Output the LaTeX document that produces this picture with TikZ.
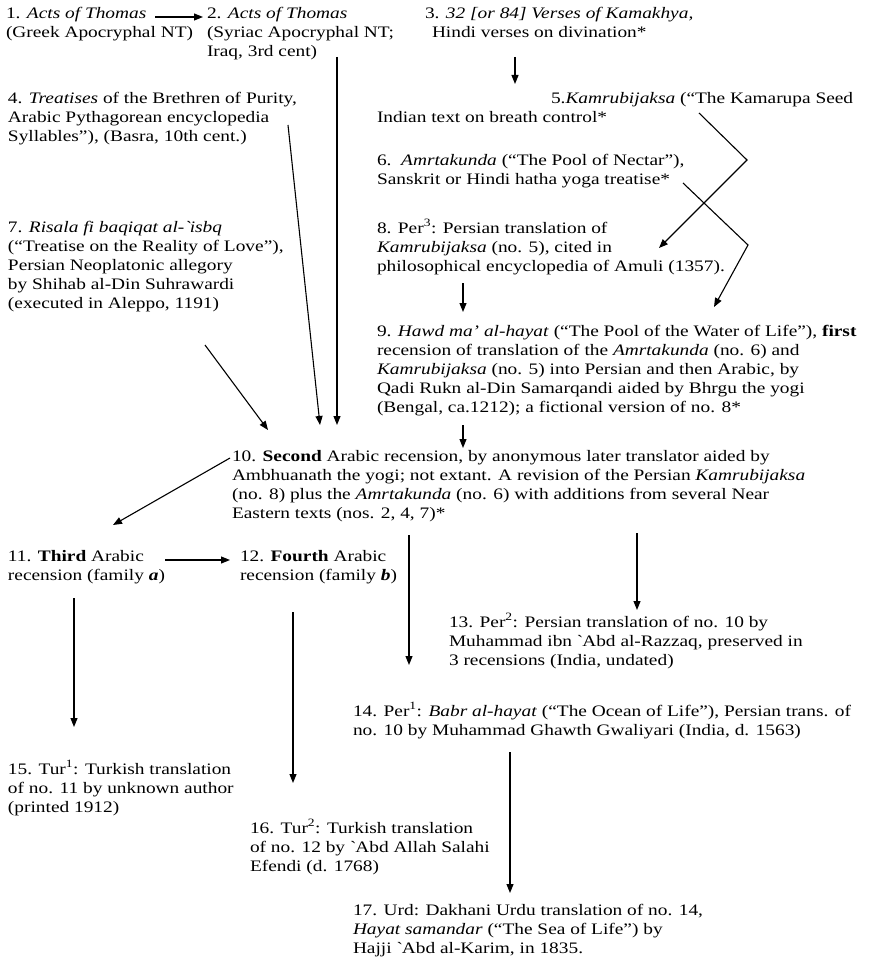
\documentclass[tikz,border=0pt]{standalone}
\usepackage{fontspec}
\setmainfont{Liberation Serif}[FakeStretch=1.21]
\usetikzlibrary{arrows.meta}
\newcommand{\bq}{\textasciigrave}
\begin{document}
\begin{tikzpicture}[x=1pt,y=-1pt,
  txt/.style={anchor=north west,inner sep=0pt,outer sep=0pt,align=left,font=\fontsize{16}{19}\selectfont},
  arr/.style={line width=1.1pt,-{Triangle[length=9pt,width=7pt]}}]
\fill[white] (0,0) rectangle (877,965);
\useasboundingbox (0,0) rectangle (877,965);
% nodes
\node[txt] (n1) at (6,5.5) {\strut 1. \textit{Acts of Thomas}\\(Greek Apocryphal NT)};
\node[txt] (n2) at (207,5.5) {\strut 2. \textit{Acts of Thomas}\\(Syriac Apocryphal NT;\\Iraq, 3rd cent)};
\node[txt] (n3) at (425,5.5) {\strut 3. \textit{32 [or 84] Verses of Kamakhya,}\\\hspace*{7pt}Hindi verses on divination*};
\node[txt] (n4) at (8,90.5) {\strut 4. \textit{Treatises} of the Brethren of Purity,\\Arabic Pythagorean encyclopedia\\Syllables''), (Basra, 10th cent.)};
\node[txt] (n5) at (377,90.5) {\strut\hspace*{174pt}5.\textit{Kamrubijaksa} (``The Kamarupa Seed\\Indian text on breath control*};
\node[txt] (n6) at (377,152.5) {\strut 6.\ \ \textit{Amrtakunda} (``The Pool of Nectar''),\\Sanskrit or Hindi hatha yoga treatise*};
\node[txt] (n7) at (8,219.5) {\strut 7. \textit{Risala fi baqiqat al-\bq isbq}\\(``Treatise on the Reality of Love''),\\Persian Neoplatonic allegory\\by Shihab al-Din Suhrawardi\\(executed in Aleppo, 1191)};
\node[txt] (n8) at (377,219.5) {\strut 8. Per\textsuperscript{3}: Persian translation of\\\textit{Kamrubijaksa} (no. 5), cited in\\philosophical encyclopedia of Amuli (1357).};
\node[txt] (n9) at (377,323.5) {\strut 9. \textit{Hawd ma' al-hayat} (``The Pool of the Water of Life''), \textbf{first}\\recension of translation of the \textit{Amrtakunda} (no. 6) and\\\textit{Kamrubijaksa} (no. 5) into Persian and then Arabic, by\\Qadi Rukn al-Din Samarqandi aided by Bhrgu the yogi\\(Bengal, ca.1212); a fictional version of no. 8*};
\node[txt] (n10) at (232,448.5) {\strut 10. \textbf{Second} Arabic recension, by anonymous later translator aided by\\Ambhuanath the yogi; not extant. A revision of the Persian \textit{Kamrubijaksa}\\(no. 8) plus the \textit{Amrtakunda} (no. 6) with additions from several Near\\Eastern texts (nos. 2, 4, 7)*};
\node[txt] (n11) at (8,548.5) {\strut 11. \textbf{Third} Arabic\\recension (family \textbf{\textit{a}})};
\node[txt] (n12) at (240,548.5) {\strut 12. \textbf{Fourth} Arabic\\recension (family \textbf{\textit{b}})};
\node[txt] (n13) at (449,613.5) {\strut 13. Per\textsuperscript{2}: Persian translation of no. 10 by\\Muhammad ibn \bq Abd al-Razzaq, preserved in\\3 recensions (India, undated)};
\node[txt] (n14) at (353,702.5) {\strut 14. Per\textsuperscript{1}: \textit{Babr al-hayat} (``The Ocean of Life''), Persian trans. of\\no. 10 by Muhammad Ghawth Gwaliyari (India, d. 1563)};
\node[txt] (n15) at (8,760.5) {\strut 15. Tur\textsuperscript{1}: Turkish translation\\of no. 11 by unknown author\\(printed 1912)};
\node[txt] (n16) at (250,819.5) {\strut 16. Tur\textsuperscript{2}: Turkish translation\\of no. 12 by \bq Abd Allah Salahi\\Efendi (d. 1768)};
\node[txt] (n17) at (353,902.5) {\strut 17. Urd: Dakhani Urdu translation of no. 14,\\\textit{Hayat samandar} (``The Sea of Life'') by\\Hajji \bq Abd al-Karim, in 1835.};
% connector end points
\coordinate (a1s) at (155,17);  \coordinate (a1e) at (203,17);
\coordinate (a3s) at (515,57);  \coordinate (a3e) at (515,84);
\coordinate (a2s) at (337,57);  \coordinate (a2e) at (337,425);
\coordinate (a4s) at (288,125); \coordinate (a4e) at (320,425);
\coordinate (a7s) at (205,345); \coordinate (a7e) at (268,430);
\coordinate (a5s) at (699,113); \coordinate (a5m) at (747,160); \coordinate (a5e) at (659,248);
\coordinate (a6s) at (683,183); \coordinate (a6m) at (748,245); \coordinate (a6e) at (714,307);
\coordinate (a8s) at (463,283); \coordinate (a8e) at (463,312);
\coordinate (a9s) at (463,425); \coordinate (a9e) at (463,448);
\coordinate (b11s) at (230,458); \coordinate (b11e) at (113,525);
\coordinate (b12s) at (165,560); \coordinate (b12e) at (230,560);
\coordinate (b13s) at (637,533); \coordinate (b13e) at (637,610);
\coordinate (b14s) at (409,535); \coordinate (b14e) at (409,665);
\coordinate (b15s) at (74,598);  \coordinate (b15e) at (74,727);
\coordinate (b16s) at (293,612); \coordinate (b16e) at (293,783);
\coordinate (b17s) at (510,752); \coordinate (b17e) at (510,893);
% connectors
\draw[arr] (a1s) -- (a1e);
\draw[arr] (a3s) -- (a3e);
\draw[arr] (a2s) -- (a2e);
\draw[arr] (a4s) -- (a4e);
\draw[arr] (a7s) -- (a7e);
\draw[arr] (a5s) -- (a5m) -- (a5e);
\draw[arr] (a6s) -- (a6m) -- (a6e);
\draw[arr] (a8s) -- (a8e);
\draw[arr] (a9s) -- (a9e);
\draw[arr] (b11s) -- (b11e);
\draw[arr] (b12s) -- (b12e);
\draw[arr] (b13s) -- (b13e);
\draw[arr] (b14s) -- (b14e);
\draw[arr] (b15s) -- (b15e);
\draw[arr] (b16s) -- (b16e);
\draw[arr] (b17s) -- (b17e);
\end{tikzpicture}
\end{document}
